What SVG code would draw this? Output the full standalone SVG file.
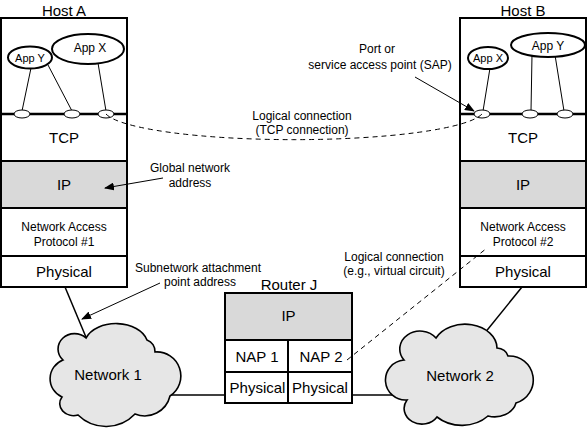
<svg xmlns="http://www.w3.org/2000/svg" width="588" height="432" viewBox="0 0 588 432">
<style>
text{font-family:"Liberation Sans",Arial,sans-serif;text-anchor:middle;fill:#000}
.f15{font-size:15px}
.f12{font-size:12px}
.f11{font-size:11px}
.box{fill:#fff;stroke:#000;stroke-width:2}
.gray{fill:#d9d9d9;stroke:#000;stroke-width:2}
.div{stroke:#000;stroke-width:2;fill:none}
.bus{stroke:#000;stroke-width:2.5}
.port{fill:#fff;stroke:#000;stroke-width:1}
.app{fill:#fff;stroke:#000;stroke-width:2}
.thin{stroke:#000;stroke-width:1;fill:none}
.link{stroke:#000;stroke-width:1.5;fill:none}
.dash{stroke:#000;stroke-width:1;fill:none;stroke-dasharray:5 4}
.cloud{fill:#e6e6e6;stroke:#000;stroke-width:1.6}
.ann{stroke:#000;stroke-width:1;fill:none;marker-end:url(#ah)}
</style>
<defs>
<marker id="ah" markerWidth="10" markerHeight="8" refX="9" refY="4" orient="auto" markerUnits="userSpaceOnUse">
<path d="M0,0 L10,4 L0,8 Z" fill="#000"/>
</marker>
</defs>

<g id="hostA">
<text class="f15" x="64" y="16">Host A</text>
<rect class="box" x="1" y="18" width="126" height="269"/>
<rect class="gray" x="1" y="161" width="126" height="47"/>
<line class="div" x1="1" y1="256" x2="127" y2="256"/>
<line class="thin" x1="31" y1="68" x2="22" y2="111"/>
<line class="thin" x1="48" y1="65" x2="72" y2="111"/>
<line class="thin" x1="97" y1="57" x2="106" y2="111"/>
<ellipse class="app" cx="30" cy="57.5" rx="22" ry="11"/>
<text class="f11" x="30" y="62">App Y</text>
<ellipse class="app" cx="88" cy="49" rx="36" ry="15"/>
<text class="f12" x="90" y="52">App X</text>
<line class="bus" x1="1" y1="114" x2="127" y2="114"/>
<ellipse class="port" cx="22" cy="114" rx="8" ry="4"/>
<ellipse class="port" cx="72" cy="114" rx="8" ry="4"/>
<ellipse class="port" cx="106" cy="114" rx="8" ry="4"/>
<text class="f15" x="64" y="143">TCP</text>
<text class="f15" x="64" y="190">IP</text>
<text class="f12" x="64" y="231">Network Access</text>
<text class="f12" x="64" y="246">Protocol #1</text>
<text class="f15" x="64" y="277">Physical</text>
</g>

<g id="hostB">
<text class="f15" x="523" y="16">Host B</text>
<rect class="box" x="460" y="18" width="126" height="269"/>
<rect class="gray" x="460" y="161" width="126" height="47"/>
<line class="div" x1="460" y1="256" x2="586" y2="256"/>
<line class="thin" x1="490" y1="68" x2="483" y2="111"/>
<line class="thin" x1="532" y1="55" x2="531" y2="111"/>
<line class="thin" x1="555" y1="55" x2="564" y2="111"/>
<ellipse class="app" cx="488" cy="58" rx="20" ry="11"/>
<text class="f11" x="488" y="62">App X</text>
<ellipse class="app" cx="548" cy="45" rx="37" ry="12"/>
<text class="f12" x="548" y="50">App Y</text>
<line class="bus" x1="460" y1="114" x2="586" y2="114"/>
<ellipse class="port" cx="482" cy="114" rx="8" ry="4"/>
<ellipse class="port" cx="530" cy="114" rx="8" ry="4"/>
<ellipse class="port" cx="565" cy="114" rx="8" ry="4"/>
<text class="f15" x="523" y="143">TCP</text>
<text class="f15" x="523" y="190">IP</text>
<text class="f12" x="523" y="231">Network Access</text>
<text class="f12" x="523" y="246">Protocol #2</text>
<text class="f15" x="523" y="277">Physical</text>
</g>

<g id="routerJ">
<text class="f15" x="289" y="290">Router J</text>
<rect class="box" x="225" y="293" width="127" height="110"/>
<rect class="gray" x="225" y="293" width="127" height="47"/>
<line class="div" x1="225" y1="372" x2="352" y2="372"/>
<line class="div" x1="288" y1="340" x2="288" y2="403"/>
<text class="f15" x="288.5" y="321">IP</text>
<text class="f15" x="257" y="362">NAP 1</text>
<text class="f15" x="321" y="362">NAP 2</text>
<text class="f15" x="257.5" y="393">Physical</text>
<text class="f15" x="320" y="393">Physical</text>
</g>

<g id="connectors">
<line class="link" x1="65" y1="287" x2="88" y2="342"/>
<line class="link" x1="522" y1="287" x2="484" y2="334"/>
<line class="link" x1="165" y1="395" x2="225" y2="395"/>
<line class="link" x1="352" y1="395" x2="405" y2="395"/>
<path class="dash" d="M106,114 A190 30 0 0 0 482,114"/>
<line class="dash" x1="347" y1="360" x2="487" y2="248"/>
<line class="ann" x1="415" y1="77" x2="474" y2="111"/>
<line class="ann" x1="163" y1="178" x2="105" y2="188"/>
<line class="ann" x1="160" y1="283" x2="82" y2="319"/>
</g>

<g id="network1">
<path class="cloud" d="M63,360 A15 14 0 0 1 86,338 A32 22 0 0 1 147,340 A12 12 0 0 1 155,352 A24 24 0 0 1 170,396 A26 26 0 0 1 135,414 A40 40 0 0 1 78,415 A14 12 0 0 1 62,397 A20 20 0 0 1 63,360 Z"/>
<text class="f15" x="108" y="380">Network 1</text>
</g>

<g id="network2">
<path class="cloud" d="M404,360 A18 16 0 0 1 436,338 A32 24 0 0 1 497,348 A12 10 0 0 1 508,356 A24 24 0 0 1 516,403 A22 18 0 0 1 488,416 A36 30 0 0 1 437,417 A16 14 0 0 1 407,400 A20 20 0 0 1 404,360 Z"/>
<text class="f15" x="460" y="381">Network 2</text>
</g>

<g id="labels">
<text class="f12" x="377" y="53">Port or</text>
<text class="f12" x="380" y="69">service access point (SAP)</text>
<text class="f12" x="302" y="120">Logical connection</text>
<text class="f12" x="302" y="134">(TCP connection)</text>
<text class="f12" x="190" y="172">Global network</text>
<text class="f12" x="190" y="187">address</text>
<text class="f12" x="198" y="272">Subnetwork attachment</text>
<text class="f12" x="200" y="286">point address</text>
<text class="f12" x="394" y="261">Logical connection</text>
<text class="f12" x="394" y="275">(e.g., virtual circuit)</text>
</g>
</svg>
